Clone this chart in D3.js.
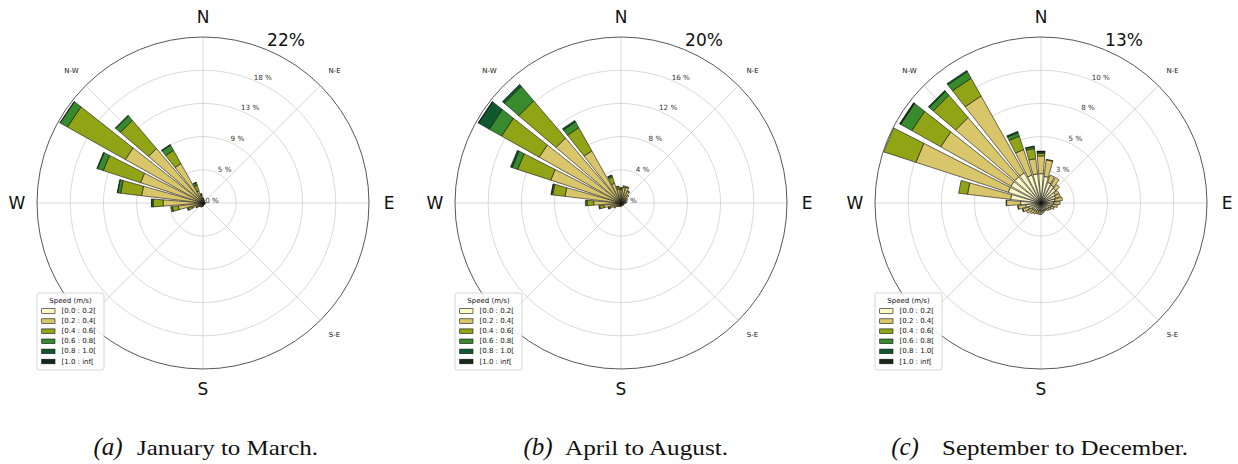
<!DOCTYPE html>
<html>
<head>
<meta charset="utf-8">
<script src="https://cdn.jsdelivr.net/npm/d3@7"></script>
<style>
  html, body { margin: 0; padding: 0; background: #fff; }
  svg { display: block; }
</style>
</head>
<body>
<svg id="chart" width="1238" height="464"></svg>
<script>
// ---- Data -------------------------------------------------------------
// 32 compass sectors (degrees, clockwise from north)
const sectorAngles = [0, 11.25, 22.5, 33.75, 45, 56.25, 67.5, 78.75, 90, 101.25, 112.5, 123.75,
  135, 146.25, 157.5, 168.75, 180, 191.25, 202.5, 213.75, 225, 236.25, 247.5, 258.75,
  270, 281.25, 292.5, 303.75, 315, 326.25, 337.5, 348.75];

const speedBins = ["[0.0 : 0.2[", "[0.2 : 0.4[", "[0.4 : 0.6[", "[0.6 : 0.8[", "[0.8 : 1.0[", "[1.0 : inf["];
const binColors = ["#fdf9c4", "#d9c66b", "#91a416", "#378b2c", "#10592e", "#17281a"];

// grid spokes every 45°; the south-west name sits under the legend
const spokeAngles = [0, 45, 90, 135, 180, 225, 270, 315];
const compassLabels = ["N", "N-E", "E", "S-E", "S", "W", "N-W"];
const compassAngles = [0, 45, 90, 135, 180, 270, 315];

// Frequency (%) per speed bin, one row per bin, one column per sector
const janMar = [
  [0.2,0.2,0.2,0.15,0.15,0.15,0.15,0.15,0.2,0.2,0.2,0.15,0.15,0.15,0.15,0.15,0.2,0.2,0.2,0.2,0.2,0.2,0.25,0.3,0.3,0.3,0.3,0.3,0.3,0.3,0.3,0.25],
  [0.4,0.3,0.2,0.15,0.15,0.1,0.1,0.1,0.15,0.1,0.1,0.1,0.1,0.1,0.1,0.15,0.2,0.2,0.3,0.3,0.4,0.6,1.3,3.0,5.0,7.9,8.4,11.5,9.2,5.7,1.4,0.7],
  [0.1,0.05,0,0,0,0,0,0,0,0,0,0,0,0,0,0,0.05,0.05,0.1,0.1,0.1,0.2,0.5,0.8,1.3,2.8,5.2,8.8,4.9,2.0,0.8,0.25],
  [0,0,0,0,0,0,0,0,0,0,0,0,0,0,0,0,0,0,0,0,0,0.05,0.15,0.2,0.2,0.4,0.8,1.1,0.8,0.8,0.35,0.05],
  [0,0,0,0,0,0,0,0,0,0,0,0,0,0,0,0,0,0,0,0,0,0,0,0,0.05,0.05,0.1,0.05,0.1,0.1,0.05,0],
  [0,0,0,0,0,0,0,0,0,0,0,0,0,0,0,0,0,0,0,0,0,0,0,0,0,0,0,0,0,0,0,0]
];
const aprAug = [
  [0.4,0.4,0.4,0.4,0.3,0.3,0.3,0.3,0.3,0.2,0.2,0.2,0.2,0.2,0.2,0.2,0.2,0.2,0.2,0.2,0.25,0.3,0.3,0.3,0.3,0.4,0.4,0.4,0.4,0.4,0.4,0.4],
  [1.2,1.5,1.6,1.2,0.9,0.6,0.4,0.3,0.3,0.2,0.2,0.2,0.15,0.15,0.15,0.2,0.2,0.25,0.25,0.25,0.3,0.6,1.1,1.8,3.0,6.4,8.5,10.9,9.9,6.8,2.1,1.3],
  [0.2,0.2,0.1,0.1,0.05,0,0,0,0,0,0,0,0,0,0,0,0,0,0,0.05,0.05,0.1,0.2,0.5,0.8,1.5,4.2,5.2,5.9,3.2,0.8,0.3],
  [0.05,0,0,0,0,0,0,0,0,0,0,0,0,0,0,0,0,0,0,0,0,0,0.05,0.1,0.2,0.15,0.7,1.7,2.3,0.8,0.2,0.05],
  [0,0,0,0,0,0,0,0,0,0,0,0,0,0,0,0,0,0,0,0,0,0,0,0,0,0.05,0.2,1.5,0.3,0.2,0.05,0],
  [0,0,0,0,0,0,0,0,0,0,0,0,0,0,0,0,0,0,0,0,0,0,0,0,0,0,0,0.05,0,0,0,0]
];
const sepDec = [
  [2.3,2.1,1.7,1.6,1.5,1.3,1.2,1.1,1.0,0.9,0.8,0.7,0.6,0.6,0.6,0.6,0.6,0.6,0.6,0.7,0.7,0.8,1.0,1.2,1.6,2.4,2.7,2.7,2.7,2.7,2.3,2.3],
  [1.4,1.3,0.6,0.7,0.4,0.3,0.4,0.6,0.5,0.4,0.3,0.2,0.2,0.1,0.1,0.2,0.3,0.3,0.3,0.3,0.4,0.5,0.5,0.6,1.1,3.4,7.6,6.3,6.1,6.9,2.1,1.2],
  [0.2,0.05,0,0,0,0,0,0,0,0,0,0,0,0,0,0,0,0,0,0,0,0,0.05,0.05,0.05,0.7,2.65,2.6,2.3,1.6,1.1,0.8],
  [0.1,0,0,0,0,0,0,0,0,0,0,0,0,0,0,0,0,0,0,0,0,0,0,0,0,0,0,1.0,0.4,0.6,0.3,0.15],
  [0.05,0,0,0,0,0,0,0,0,0,0,0,0,0,0,0,0,0,0,0,0,0,0,0,0,0,0,0.05,0.1,0.1,0.1,0.05],
  [0.02,0,0,0,0,0,0,0,0,0,0,0,0,0,0,0,0,0,0,0,0,0,0,0,0,0,0,0.05,0,0,0,0]
];

// Radial axis: outer value and ring labels
const janMarMax = 22, aprAugMax = 20, sepDecMax = 13;
const janMarRings = ["0 %", "5 %", "9 %", "13 %", "18 %"];
const aprAugRings = ["0 %", "4 %", "8 %", "12 %", "16 %"];
const sepDecRings = ["0 %", "3 %", "5 %", "8 %", "10 %"];

const captionTags = ["(a)", "(b)", "(c)"];
const captionTexts = ["January to March.", "April to August.", "September to December."];

// ---- Layout -------------------------------------------------------------
const R = 166;            // outer radius of each rose
const opening = 0.8;      // fraction of the sector filled by a bar
const panels = [
  { cx: 203,  cy: 203, rmax: janMarMax, rings: janMarRings, data: janMar,
    tagX: 108, textX: 137, textW: 181 },
  { cx: 621,  cy: 203, rmax: aprAugMax, rings: aprAugRings, data: aprAug,
    tagX: 538, textX: 565, textW: 163 },
  { cx: 1041, cy: 203, rmax: sepDecMax, rings: sepDecRings, data: sepDec,
    tagX: 905, textX: 942, textW: 246 }
];

const svg = d3.select("#chart");
const angle = d3.scaleLinear().domain([0, 360]).range([0, 2 * Math.PI]);
const sectorWidth = 360 / sectorAngles.length;

panels.forEach((p, k) => {
  const g = svg.append("g").attr("transform", `translate(${p.cx},${p.cy})`);
  const r = d3.scaleLinear().domain([0, p.rmax]).range([0, R]);
  const pt = (deg, rr) => [rr * Math.sin(angle(deg)), -rr * Math.cos(angle(deg))];

  // clip bars to the rose disc
  g.append("clipPath").attr("id", `disc${k}`)
    .append("circle").attr("r", R);

  // grid rings
  const ringValues = d3.range(1, 5).map(i => p.rmax * i / 5);
  g.selectAll("circle.ring").data(ringValues).enter().append("circle")
    .attr("class", "ring").attr("r", d => r(d))
    .attr("fill", "none").attr("stroke", "#cfcfcf").attr("stroke-width", 0.8);

  // radial grid lines
  g.selectAll("line.spoke").data(spokeAngles).enter().append("line")
    .attr("class", "spoke")
    .attr("x1", 0).attr("y1", 0)
    .attr("x2", d => pt(d, R)[0]).attr("y2", d => pt(d, R)[1])
    .attr("stroke", "#cfcfcf").attr("stroke-width", 0.8);

  // ring labels along 22.5°
  g.selectAll("text.rlab").data(p.rings).enter().append("text")
    .attr("class", "rlab")
    .attr("x", (d, i) => pt(22.5, r(p.rmax * i / 5))[0] + 9)
    .attr("y", (d, i) => pt(22.5, r(p.rmax * i / 5))[1] - 3)
    .attr("text-anchor", "middle").attr("dominant-baseline", "central")
    .attr("font-family", "DejaVu Sans").attr("font-size", 7.2).attr("fill", "#333")
    .text(d => d);

  // stacked bars
  const segs = [];
  sectorAngles.forEach((a, i) => {
    let acc = 0;
    p.data.forEach((row, j) => {
      const v = row[i];
      if (v > 0) segs.push({ a, j, r0: acc, r1: acc + v });
      acc += v;
    });
  });
  const half = sectorWidth * opening / 2;
  const line = d3.line();
  g.append("g").attr("clip-path", `url(#disc${k})`)
    .selectAll("path").data(segs).enter().append("path")
    .attr("d", s => line([
      pt(s.a - half, r(s.r0)), pt(s.a - half, r(s.r1)),
      pt(s.a + half, r(s.r1)), pt(s.a + half, r(s.r0))
    ]) + "Z")
    .attr("fill", s => binColors[s.j])
    .attr("stroke", "#111").attr("stroke-width", 0.6).attr("stroke-linejoin", "miter");

  // outer spine
  g.append("circle").attr("r", R).attr("fill", "none")
    .attr("stroke", "#444").attr("stroke-width", 0.9);

  // compass labels
  g.selectAll("text.dir").data(compassLabels).enter().append("text")
    .attr("class", "dir")
    .attr("x", (d, i) => pt(compassAngles[i], 186)[0])
    .attr("y", (d, i) => pt(compassAngles[i], 186)[1])
    .attr("text-anchor", "middle").attr("dominant-baseline", "central")
    .attr("font-family", "DejaVu Sans")
    .attr("font-size", d => d.length === 1 ? 17 : 7)
    .attr("fill", "#111")
    .text(d => d);

  // outer value label
  g.append("text")
    .attr("x", 83).attr("y", -163)
    .attr("text-anchor", "middle").attr("dominant-baseline", "central")
    .attr("font-family", "DejaVu Sans").attr("font-size", 17).attr("fill", "#111")
    .text(`${p.rmax}%`);

  // legend
  const lg = g.append("g").attr("transform", `translate(${-166},${90})`);
  lg.append("rect").attr("x", 0).attr("y", 0).attr("width", 67).attr("height", 77)
    .attr("rx", 2).attr("fill", "#fff").attr("fill-opacity", 0.85)
    .attr("stroke", "#cccccc").attr("stroke-width", 0.8);
  lg.append("text").attr("x", 33.5).attr("y", 8)
    .attr("text-anchor", "middle").attr("dominant-baseline", "central")
    .attr("font-family", "DejaVu Sans").attr("font-size", 7).attr("fill", "#111")
    .text("Speed (m/s)");
  const rows = lg.selectAll("g.item").data(speedBins).enter().append("g")
    .attr("class", "item")
    .attr("transform", (d, i) => `translate(0,${18 + i * 10.1})`);
  rows.append("rect").attr("x", 4.7).attr("y", -2.3).attr("width", 13.3).attr("height", 4.6)
    .attr("fill", (d, i) => binColors[i]).attr("stroke", "#111").attr("stroke-width", 0.6);
  rows.append("text").attr("x", 24.5).attr("y", 0)
    .attr("dominant-baseline", "central")
    .attr("font-family", "DejaVu Sans").attr("font-size", 7).attr("fill", "#111")
    .text(d => d);

  // caption
  svg.append("text").attr("x", p.tagX).attr("y", 455)
    .attr("text-anchor", "middle")
    .attr("font-family", "Liberation Serif").attr("font-style", "italic")
    .attr("font-size", 25).attr("fill", "#111")
    .text(captionTags[k]);
  svg.append("text").attr("x", p.textX).attr("y", 455)
    .attr("font-family", "Liberation Serif")
    .attr("font-size", 21).attr("fill", "#111")
    .attr("textLength", p.textW).attr("lengthAdjust", "spacingAndGlyphs")
    .text(captionTexts[k]);
});
</script>
</body>
</html>
